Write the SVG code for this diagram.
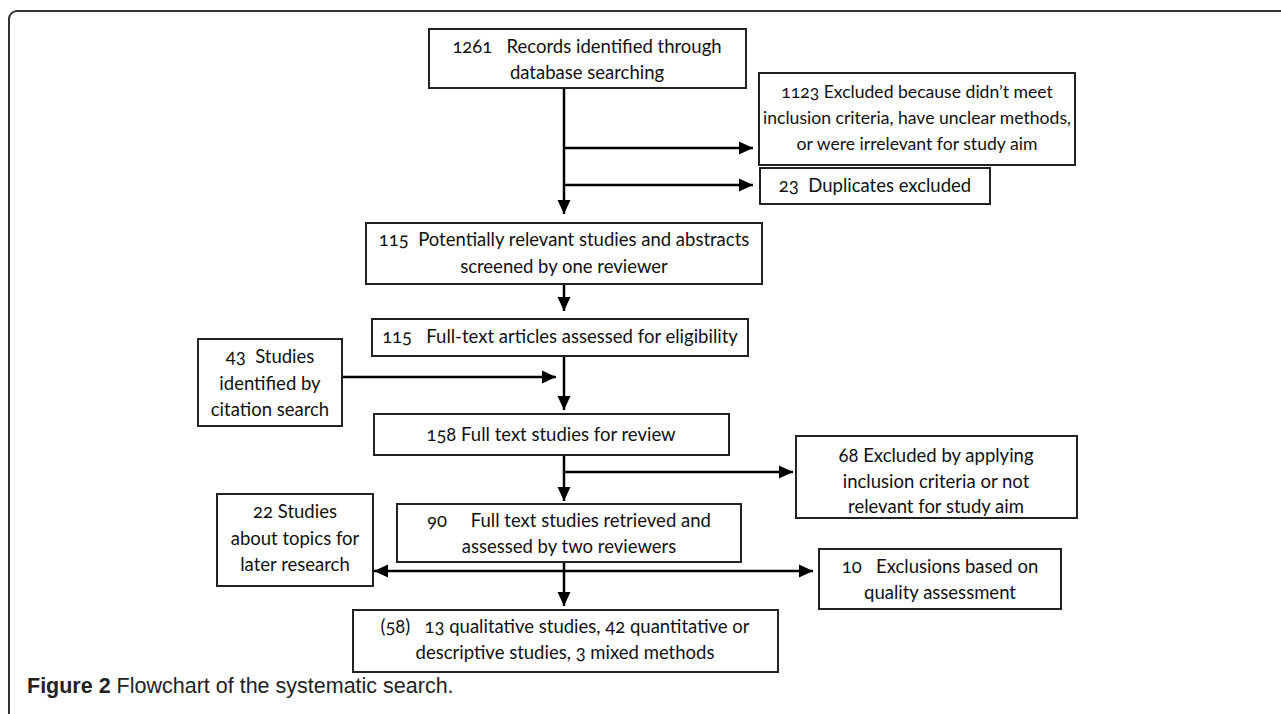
<svg xmlns="http://www.w3.org/2000/svg" width="1281" height="714" viewBox="0 0 1281 714">
<style>
.box{fill:#fff;stroke:#222;stroke-width:2}
.t{font-family:Lato,"Open Sans","Liberation Sans",sans-serif;font-size:18.5px;fill:#111;text-anchor:middle;font-variant-numeric:oldstyle-nums;font-feature-settings:"onum"}
.s{font-size:17.6px}
.c{stroke:#000;stroke-width:2.5;fill:none}
.cap{font-family:"Liberation Sans",Arial,sans-serif;font-size:21.5px;fill:#222}
</style>
<defs>
<marker id="ah" markerUnits="userSpaceOnUse" markerWidth="15" markerHeight="15" refX="14" refY="7.5" orient="auto-start-reverse">
<path d="M0,1 L14,7.5 L0,14 Z" fill="#000"/>
</marker>
</defs>
<rect width="1281" height="714" fill="#fff"/>
<path d="M9,714 V19 A8,8 0 0 1 17,11 H1281" fill="none" stroke="#333" stroke-width="2"/>
<g id="connectors">
<line class="c" x1="564" y1="88" x2="564" y2="214" marker-end="url(#ah)"/>
<line class="c" x1="564" y1="148" x2="753" y2="148" marker-end="url(#ah)"/>
<line class="c" x1="564" y1="185" x2="753" y2="185" marker-end="url(#ah)"/>
<line class="c" x1="564" y1="284" x2="564" y2="311" marker-end="url(#ah)"/>
<line class="c" x1="564" y1="356" x2="564" y2="410" marker-end="url(#ah)"/>
<line class="c" x1="342" y1="377" x2="556" y2="377" marker-end="url(#ah)"/>
<line class="c" x1="564" y1="455" x2="564" y2="501" marker-end="url(#ah)"/>
<line class="c" x1="564" y1="472" x2="793" y2="472" marker-end="url(#ah)"/>
<line class="c" x1="564" y1="562" x2="564" y2="606" marker-end="url(#ah)"/>
<line class="c" x1="374" y1="571" x2="813" y2="571" marker-start="url(#ah)" marker-end="url(#ah)"/>
</g>
<g id="n1"><rect class="box" x="429" y="29" width="317" height="59"/>
<text class="t" xml:space="preserve" x="587" y="53">1261   Records identified through</text>
<text class="t" x="587" y="79">database searching</text></g>
<g id="n2"><rect class="box" x="759" y="73" width="316" height="92"/>
<text class="t s" x="917" y="98">1123 Excluded because didn’t meet</text>
<text class="t s" x="917" y="124">inclusion criteria, have unclear methods,</text>
<text class="t s" x="917" y="150">or were irrelevant for study aim</text></g>
<g id="n3"><rect class="box" x="760" y="168" width="230" height="36"/>
<text class="t" xml:space="preserve" x="875" y="192">23  Duplicates excluded</text></g>
<g id="n4"><rect class="box" x="366" y="223" width="396" height="61"/>
<text class="t" xml:space="preserve" x="564" y="246">115  Potentially relevant studies and abstracts</text>
<text class="t" x="564" y="273">screened by one reviewer</text></g>
<g id="n5"><rect class="box" x="372" y="319" width="376" height="37"/>
<text class="t" xml:space="preserve" x="560" y="343">115   Full-text articles assessed for eligibility</text></g>
<g id="n6"><rect class="box" x="198" y="339" width="144" height="87"/>
<text class="t" xml:space="preserve" x="270" y="363">43  Studies</text>
<text class="t" x="270" y="390">identified by</text>
<text class="t" x="270" y="416">citation search</text></g>
<g id="n7"><rect class="box" x="374" y="414" width="355" height="41"/>
<text class="t" x="551" y="441">158 Full text studies for review</text></g>
<g id="n8"><rect class="box" x="796" y="436" width="281" height="82"/>
<text class="t" x="936" y="462">68 Excluded by applying</text>
<text class="t" x="936" y="488">inclusion criteria or not</text>
<text class="t" x="936" y="513">relevant for study aim</text></g>
<g id="n9"><rect class="box" x="217" y="494" width="156" height="92"/>
<text class="t" x="295" y="518">22 Studies</text>
<text class="t" x="295" y="545">about topics for</text>
<text class="t" x="295" y="571">later research</text></g>
<g id="n10"><rect class="box" x="397" y="504" width="344" height="58"/>
<text class="t" xml:space="preserve" x="569" y="527">90     Full text studies retrieved and</text>
<text class="t" x="569" y="553">assessed by two reviewers</text></g>
<g id="n11"><rect class="box" x="819" y="549" width="242" height="60"/>
<text class="t" xml:space="preserve" x="940" y="573">10   Exclusions based on</text>
<text class="t" x="940" y="599">quality assessment</text></g>
<g id="n12"><rect class="box" x="353" y="610" width="425" height="62"/>
<text class="t" xml:space="preserve" x="565" y="633">(58)   13 qualitative studies, 42 quantitative or</text>
<text class="t" x="565" y="659">descriptive studies, 3 mixed methods</text></g>
<text class="cap" x="27" y="693"><tspan font-weight="bold">Figure 2</tspan> Flowchart of the systematic search.</text>
</svg>
